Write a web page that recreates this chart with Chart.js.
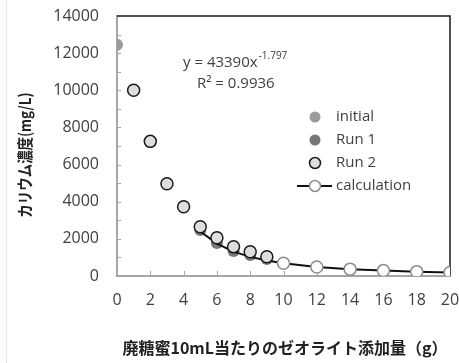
<!DOCTYPE html>
<html>
<head>
<meta charset="utf-8">
<script src="https://cdn.jsdelivr.net/npm/chart.js@4.4.1/dist/chart.umd.min.js"></script>
<style>
  html, body { margin: 0; padding: 0; background: #fff; }
  #wrap { position: relative; width: 459px; height: 363px; }
  #edge { position: absolute; left: 6px; top: 0; height: 363px; border-left: 1px dotted #d4d4d4; }
  canvas { position: absolute; left: 0; top: 0; }
</style>
</head>
<body>
<div id="wrap">
  <div id="edge"></div>
  <canvas id="chart" width="459" height="363"></canvas>
</div>
<script>
// --- data ---
const initialX = [0];
const initialY = [12450];

const run1X = [5, 6, 7, 8, 9];
const run1Y = [2480, 1780, 1350, 1130, 915];

const run2X = [1, 2, 3, 4, 5, 6, 7, 8, 9];
const run2Y = [10000, 7250, 4970, 3730, 2650, 2060, 1580, 1310, 1040];

const calcX = [5, 6, 7, 8, 9, 10, 12, 14, 16, 18, 20];
const calcY = [2400, 1740, 1310, 1030, 840, 690, 480, 370, 290, 235, 190];

const legendLabels = ['initial', 'Run 1', 'Run 2', 'calculation'];
const equationText = 'y = 43390x';
const equationExp  = '-1.797';
const r2Text       = 'R² = 0.9936';
const xTitle = '廃糖蜜10mL当たりのゼオライト添加量（g）';
const yTitle = 'カリウム濃度(mg/L)';

const TEXT   = '#404040';
const AXIS   = '#a6a6a6';
const FONT   = "'Open Sans', sans-serif";
const JFONT  = "'Noto Sans CJK JP', sans-serif";

const toPoints = (xs, ys) => xs.map((x, i) => ({ x, y: ys[i] }));

const STYLE = {
    initial: { bg: '#9a9a9a', border: '#9a9a9a', bw: 0 },
    run1:    { bg: '#777777', border: '#6a6a6a', bw: 0 },
    run2:    { bg: '#dedede', border: '#1a1a1a', bw: 1.5 },
    calc:    { bg: '#ffffff', border: '#8c8c8c', bw: 1.5 },
};

// keep the plot box where the reference has it
const noLabelPadding = s => {
    s.paddingTop = 0;
    s.paddingBottom = 0;
    s.paddingLeft = 0;
    s.paddingRight = 0;
};

const decor = {
    id: 'decor',
    beforeDatasetsDraw(chart) {
        const { ctx, chartArea: a, scales: { x, y } } = chart;
        ctx.save();
        // inner minor ticks on y axis
        ctx.strokeStyle = AXIS;
        ctx.lineWidth = 1;
        for (let v = 1000; v < 14000; v += 1000) {
            const py = Math.round(y.getPixelForValue(v)) + 0.5;
            ctx.beginPath();
            ctx.moveTo(a.left, py);
            ctx.lineTo(a.left + 4, py);
            ctx.stroke();
        }
        // inner ticks on x axis
        for (let v = 2; v < 20; v += 2) {
            const px = Math.round(x.getPixelForValue(v)) + 0.5;
            ctx.beginPath();
            ctx.moveTo(px, a.bottom);
            ctx.lineTo(px, a.bottom - 5);
            ctx.stroke();
        }
        // top + right frame
        ctx.strokeStyle = '#1a1a1a';
        ctx.lineWidth = 1.5;
        ctx.beginPath();
        ctx.moveTo(a.left, a.top);
        ctx.lineTo(a.right, a.top);
        ctx.lineTo(a.right, a.bottom);
        ctx.stroke();
        ctx.restore();
    },
    afterDraw(chart) {
        const { ctx } = chart;
        ctx.save();
        ctx.fillStyle = TEXT;
        ctx.textBaseline = 'middle';

        // trend equation
        ctx.font = `15px ${FONT}`;
        ctx.textAlign = 'left';
        ctx.fillText(equationText, 183, 63);
        const w = ctx.measureText(equationText).width;
        ctx.font = `10px ${FONT}`;
        ctx.fillText(equationExp, 183 + w + 1, 56);
        ctx.font = `15px ${FONT}`;
        ctx.fillText(r2Text, 197, 84);

        // legend
        const styles = [STYLE.initial, STYLE.run1, STYLE.run2, STYLE.calc];
        legendLabels.forEach((label, i) => {
            const cy = 117 + i * 23;
            const cx = 315;
            const s = styles[i];
            if (i === 3) {
                ctx.strokeStyle = '#111';
                ctx.lineWidth = 2;
                ctx.beginPath();
                ctx.moveTo(297, cy);
                ctx.lineTo(332, cy);
                ctx.stroke();
            }
            ctx.beginPath();
            ctx.arc(cx, cy, 5.5, 0, Math.PI * 2);
            ctx.fillStyle = s.bg;
            ctx.fill();
            if (s.bw) {
                ctx.strokeStyle = s.border;
                ctx.lineWidth = s.bw;
                ctx.stroke();
            }
            ctx.fillStyle = TEXT;
            ctx.font = `15px ${FONT}`;
            ctx.fillText(label, 336, cy);
        });

        // axis titles
        ctx.fillStyle = '#222';
        ctx.font = `bold 16px ${JFONT}`;
        ctx.textAlign = 'center';
        ctx.fillText(xTitle, 285, 348);

        ctx.translate(25, 155);
        ctx.rotate(-Math.PI / 2);
        ctx.scale(0.84, 1);
        ctx.fillText(yTitle, 0, 0);
        ctx.restore();
    },
};

const pointSet = (label, data, s, extra = {}) => ({
    label,
    data,
    showLine: false,
    pointRadius: 6,
    pointHoverRadius: 6,
    pointBackgroundColor: s.bg,
    pointBorderColor: s.border,
    pointBorderWidth: s.bw,
    ...extra,
});

new Chart(document.getElementById('chart'), {
    type: 'scatter',
    data: {
        datasets: [
            pointSet('Run 2', toPoints(run2X, run2Y), STYLE.run2, { order: 1 }),
            pointSet('calculation', toPoints(calcX, calcY), STYLE.calc, {
                order: 2,
                showLine: true,
                borderColor: '#111',
                borderWidth: 2,
                pointRadius: calcX.map(x => (x < 10 ? 0 : 6)),
            }),
            pointSet('Run 1', toPoints(run1X, run1Y), STYLE.run1, { order: 3 }),
            pointSet('initial', toPoints(initialX, initialY), STYLE.initial, { order: 4 }),
        ],
    },
    options: {
        responsive: false,
        animation: false,
        layout: { padding: { left: 0, top: 16, right: 9, bottom: 0 } },
        plugins: {
            legend: { display: false },
            tooltip: { enabled: false },
        },
        scales: {
            x: {
                type: 'linear',
                min: 0,
                max: 20,
                grid: { display: false, drawTicks: false },
                border: { color: AXIS, width: 2 },
                ticks: {
                    stepSize: 2,
                    padding: 15,
                    color: TEXT,
                    font: { family: FONT, size: 16 },
                    maxRotation: 0,
                },
                afterFit: s => { s.height = 87; noLabelPadding(s); },
            },
            y: {
                min: 0,
                max: 14000,
                grid: { display: false, drawTicks: false },
                border: { color: AXIS, width: 2 },
                ticks: {
                    stepSize: 2000,
                    padding: 18,
                    color: TEXT,
                    font: { family: FONT, size: 16 },
                    callback: v => String(v),
                },
                afterFit: s => { s.width = 117; noLabelPadding(s); },
            },
        },
    },
    plugins: [decor],
});
</script>
</body>
</html>
